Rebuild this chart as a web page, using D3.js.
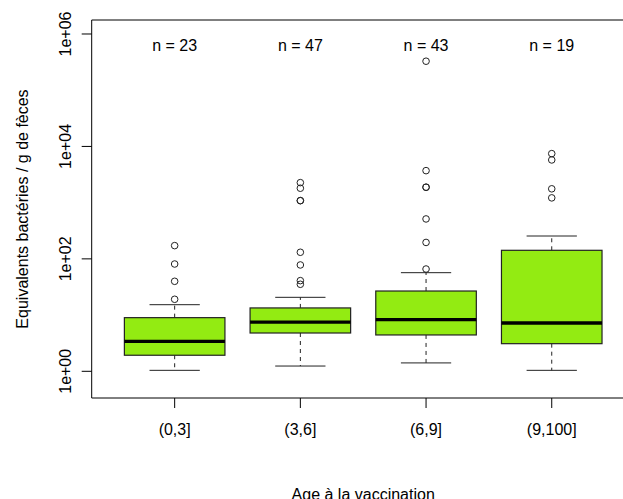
<!DOCTYPE html>
<html><head><meta charset="utf-8">
<script src="https://cdn.jsdelivr.net/npm/d3@7"></script>
<style>body{margin:0;background:#fff}svg{display:block}text{font-family:"Liberation Sans",Arial,sans-serif;fill:#000}</style>
</head><body><div id="c"></div>
<script>
const categories = ["(0,3]", "(3,6]", "(6,9]", "(9,100]"];
const counts = [23, 47, 43, 19];
const whiskerLow = [1.04, 1.24, 1.41, 1.04];
const q1 = [1.93, 4.8, 4.43, 3.1];
const median = [3.42, 7.5, 8.28, 7.23];
const q3 = [9.0, 13.4, 26.8, 142];
const whiskerHigh = [15.3, 20.7, 56.8, 255];
const outliers = [
  [19.1, 39.9, 81, 172],
  [35.3, 41, 77.9, 131, 1086, 1086, 1805, 2270],
  [66, 196, 513, 1880, 1880, 3710, 328000],
  [1216, 1762, 5750, 7450]
];
const yTicks = [1, 100, 10000, 1000000];
const yTickLabels = ["1e+00", "1e+02", "1e+04", "1e+06"];
const xTitle = "Age à la vaccination";
const yTitle = "Equivalents bactéries / g de fèces";

(function () {
const W = 623, H = 499;
const pL = 91.7, pR = 634.7, pT = 20, pB = 398;
const svg = d3.select("#c").append("svg").attr("width", W).attr("height", H);

const x = d3.scaleLinear().domain([0.34, 4.66]).range([pL, pR]);
const y = d3.scaleLog().domain([Math.pow(10, -0.475), Math.pow(10, 6.249)]).range([pB, pT]);
const unit = x(2) - x(1);
const boxW = 0.8 * unit, capW = 0.4 * unit;

const g = svg.append("g");
categories.forEach((c, i) => {
  const cx = x(i + 1);
  g.append("line").attr("x1", cx).attr("x2", cx).attr("y1", y(q1[i])).attr("y2", y(whiskerLow[i]))
    .attr("stroke", "#222").attr("stroke-width", 1).attr("stroke-dasharray", "4,4");
  g.append("line").attr("x1", cx).attr("x2", cx).attr("y1", y(q3[i])).attr("y2", y(whiskerHigh[i]))
    .attr("stroke", "#222").attr("stroke-width", 1).attr("stroke-dasharray", "4,4");
  [whiskerLow[i], whiskerHigh[i]].forEach(v => {
    g.append("line").attr("x1", cx - capW / 2).attr("x2", cx + capW / 2).attr("y1", y(v)).attr("y2", y(v))
      .attr("stroke", "#222").attr("stroke-width", 1);
  });
  g.append("rect").attr("x", cx - boxW / 2).attr("width", boxW)
    .attr("y", y(q3[i])).attr("height", y(q1[i]) - y(q3[i]))
    .attr("fill", "#93eb12").attr("stroke", "#222").attr("stroke-width", 1.2);
  g.append("line").attr("x1", cx - boxW / 2).attr("x2", cx + boxW / 2).attr("y1", y(median[i])).attr("y2", y(median[i]))
    .attr("stroke", "#000").attr("stroke-width", 3.3);
  outliers[i].forEach(v => {
    g.append("circle").attr("cx", cx).attr("cy", y(v)).attr("r", 3.3)
      .attr("fill", "none").attr("stroke", "#222").attr("stroke-width", 1);
  });
  svg.append("text").attr("x", cx).attr("y", 51).attr("text-anchor", "middle")
    .attr("font-size", 16).text("n = " + counts[i]);
});

const p = d3.path(); p.moveTo(pR, pT); p.lineTo(pL, pT); p.lineTo(pL, pB); p.lineTo(pR, pB);
svg.append("path").attr("d", p.toString()).attr("fill", "none").attr("stroke", "#000").attr("stroke-width", 1);

const yAxis = svg.append("g");
yTicks.forEach((t, k) => {
  yAxis.append("line").attr("x1", pL).attr("x2", pL - 10).attr("y1", y(t)).attr("y2", y(t)).attr("stroke", "#000");
  yAxis.append("text").attr("transform", `translate(70.5,${y(t)}) rotate(-90)`).attr("text-anchor", "middle")
    .attr("font-size", 16).text(yTickLabels[k]);
});
categories.forEach((c, i) => {
  svg.append("line").attr("x1", x(i + 1)).attr("x2", x(i + 1)).attr("y1", pB).attr("y2", pB + 10).attr("stroke", "#000");
  svg.append("text").attr("x", x(i + 1)).attr("y", 435).attr("text-anchor", "middle").attr("font-size", 16).text(c);
});
svg.append("text").attr("x", (pL + pR) / 2).attr("y", 499.5).attr("text-anchor", "middle").attr("font-size", 16).text(xTitle);
svg.append("text").attr("transform", `translate(27.5,${(pT + pB) / 2}) rotate(-90)`).attr("text-anchor", "middle")
  .attr("font-size", 16).text(yTitle);
})();
</script></body></html>
